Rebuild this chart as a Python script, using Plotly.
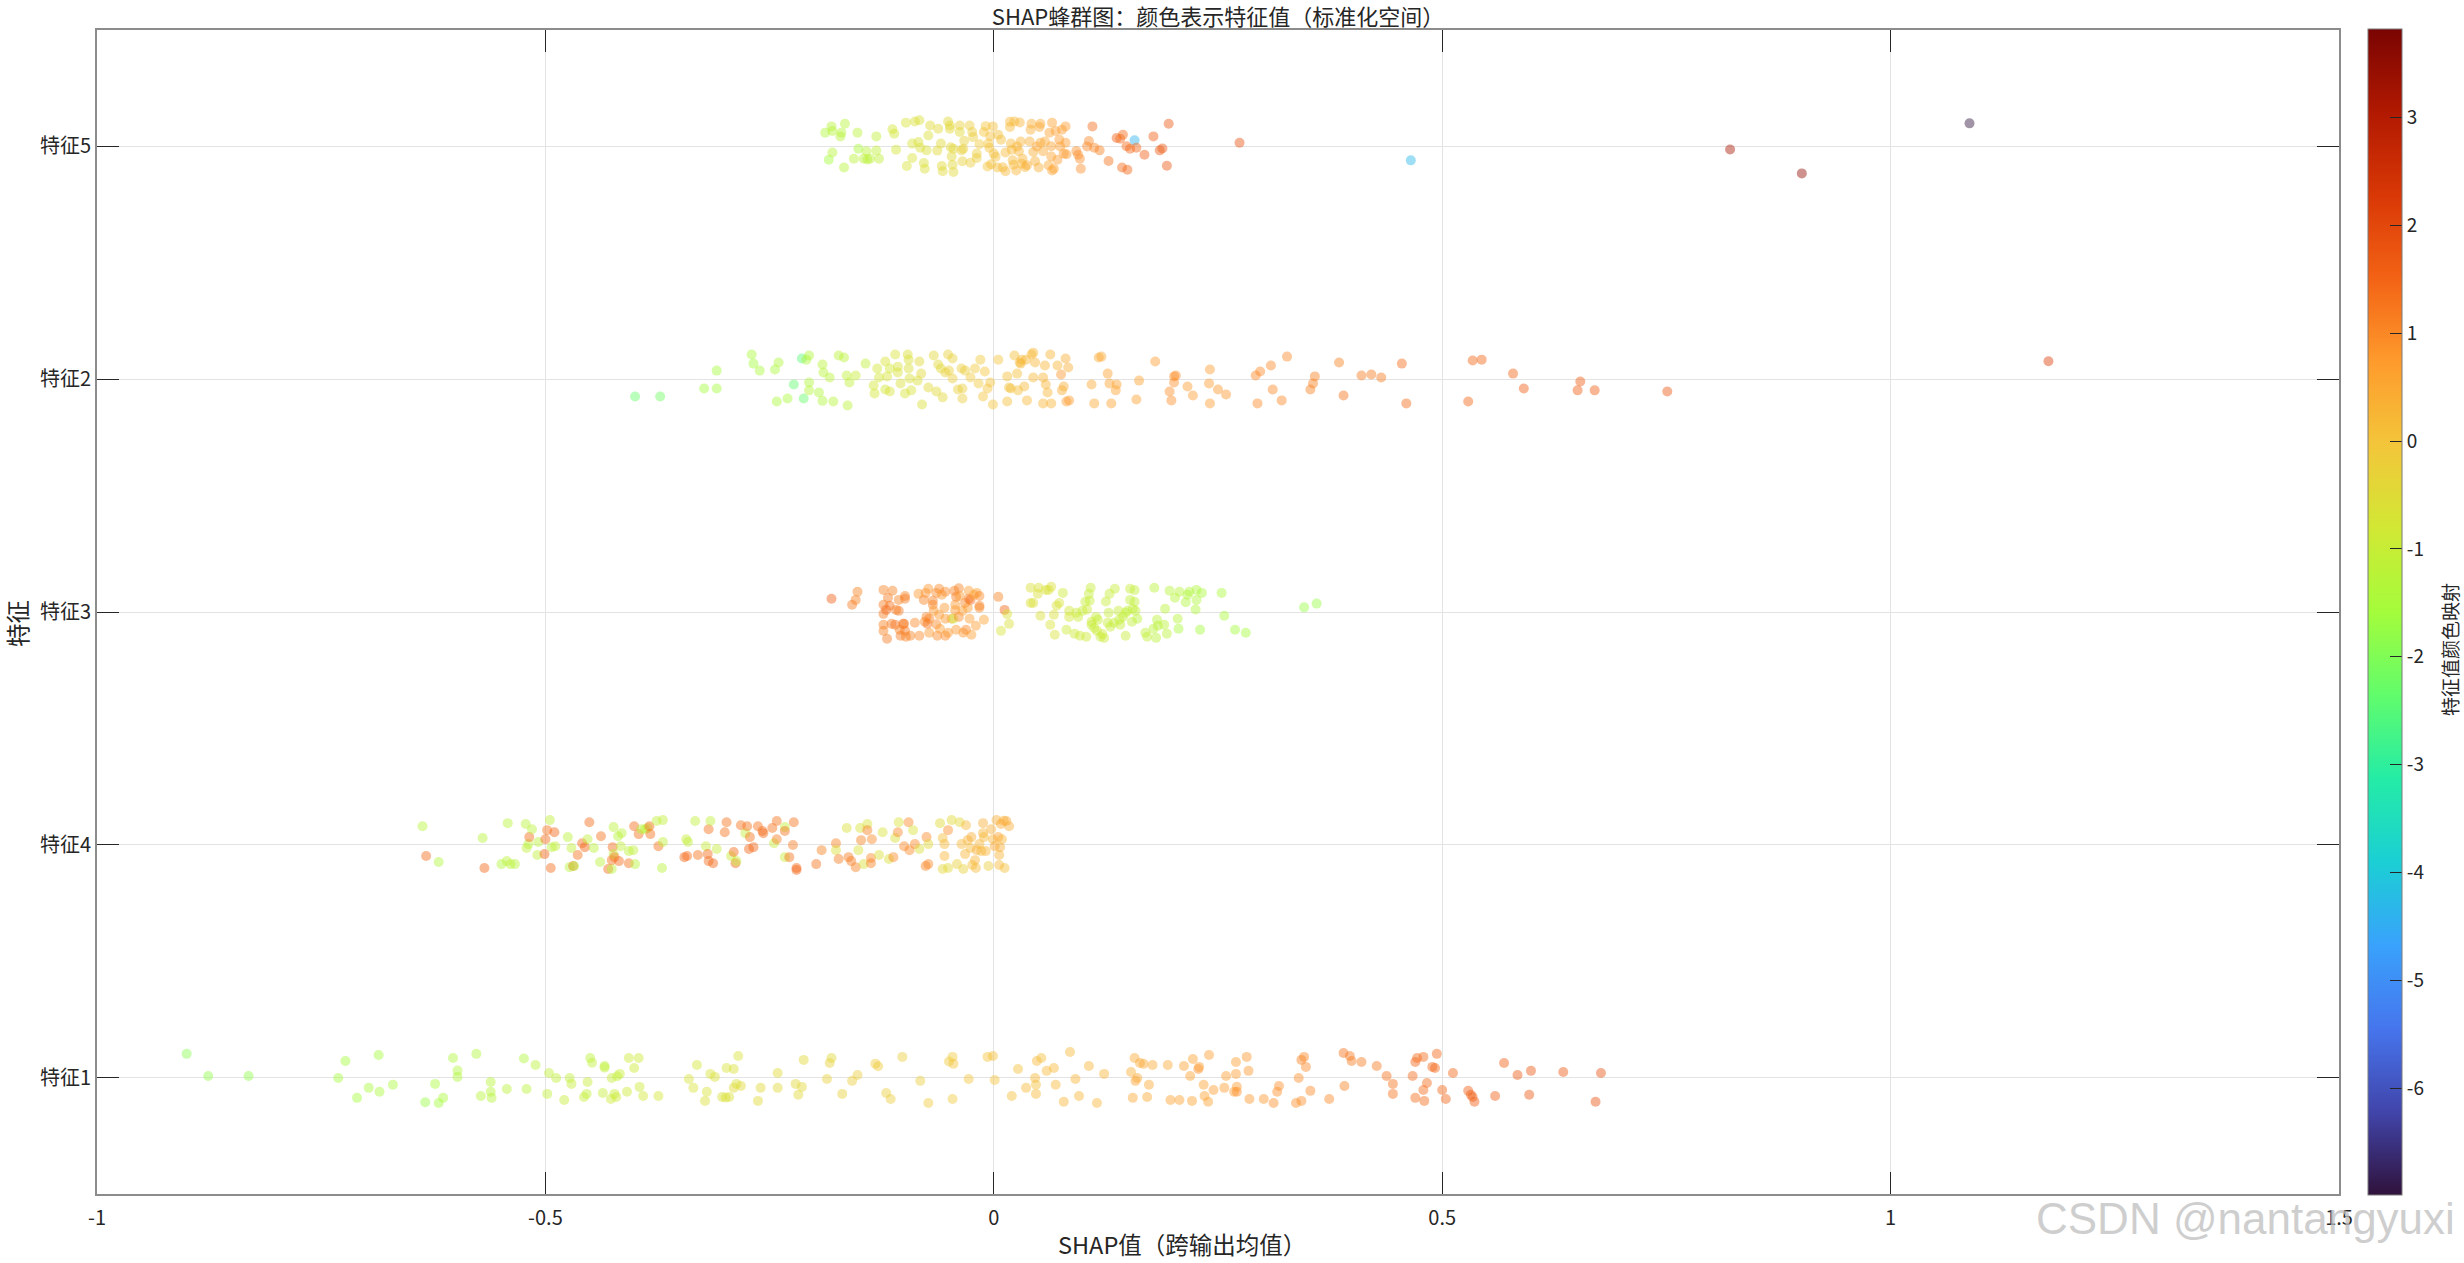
import plotly.graph_objects as go

# ---------------- data ----------------
features = ['特征1', '特征4', '特征3', '特征2', '特征5']   # bottom -> top
feature_pos = [1, 2, 3, 4, 5]

# 特征1
x1 = [-0.900,-0.876,-0.831,-0.731,-0.723,-0.710,-0.697,-0.686,-0.685,-0.670,
      -0.634,-0.619,-0.614,-0.623,-0.603,-0.598,-0.598,-0.577,-0.572,-0.561,
      -0.561,-0.560,-0.543,-0.524,-0.521,-0.511,-0.498,-0.496,-0.488,-0.479,
      -0.473,-0.471,-0.457,-0.454,-0.453,-0.450,-0.448,-0.436,-0.434,-0.434,
      -0.427,-0.426,-0.423,-0.421,-0.420,-0.417,-0.409,-0.407,-0.401,-0.396,
      -0.395,-0.391,-0.374,-0.340,-0.335,-0.331,-0.322,-0.320,-0.316,-0.311,
      -0.303,-0.298,-0.299,-0.295,-0.290,-0.290,-0.287,-0.285,-0.282,-0.263,
      -0.260,-0.241,-0.241,-0.221,-0.218,-0.214,-0.212,-0.186,-0.183,-0.181,
      -0.169,-0.158,-0.152,-0.132,-0.129,-0.120,-0.115,-0.102,
      -0.082,-0.073,-0.050,-0.046,-0.045,-0.046,-0.028,-0.007,-0.001,0.001,
      0.020,0.027,0.036,0.046,0.047,0.047,0.048,0.053,0.059,0.067,
      0.069,0.078,0.085,0.091,0.095,0.106,0.115,0.123,0.153,0.155,
      0.157,0.158,0.160,0.163,0.167,0.171,0.173,0.177,0.194,0.197,
      0.207,0.212,0.219,0.221,0.222,0.228,0.229,0.234,0.235,0.239,
      0.240,0.245,0.257,0.259,0.268,0.270,0.270,0.271,0.271,0.282,
      0.284,0.285,0.301,0.312,0.316,0.318,0.337,0.340,0.343,0.343,
      0.346,0.348,0.353,0.374,0.390,0.391,0.397,0.399,0.410,0.427,
      0.438,0.445,0.445,0.467,0.470,0.472,0.470,0.479,0.479,0.480,
      0.483,0.489,0.492,0.494,0.500,0.504,0.512,0.529,0.532,0.534,
      0.536,0.559,0.569,0.584,0.597,0.599,0.635,0.671,0.677]
dy1 = [0.102,0.007,0.007,-0.002,0.071,-0.087,-0.044,0.097,-0.061,-0.031,
       -0.106,-0.109,-0.087,-0.027,0.084,0.030,0.003,0.102,-0.079,-0.019,
       -0.061,-0.087,-0.049,0.082,-0.049,0.054,-0.070,0.020,-0.002,-0.096,
       -0.002,-0.027,-0.083,-0.070,-0.019,0.084,0.064,-0.066,0.050,0.043,
       -0.092,-0.002,-0.070,-0.083,0.006,0.016,-0.061,0.084,0.041,0.084,
       -0.040,-0.079,-0.079,-0.006,-0.044,0.054,-0.100,-0.061,0.016,0.003,
       -0.083,0.041,-0.086,-0.083,0.037,-0.044,-0.027,0.093,-0.036,-0.100,
       -0.044,0.020,-0.044,-0.027,-0.074,-0.040,0.076,-0.006,0.063,0.084,
       -0.070,-0.014,0.011,0.060,0.049,-0.066,-0.092,0.089,
       -0.014,-0.109,0.069,0.089,0.059,-0.092,-0.006,0.089,0.093,-0.010,
       -0.079,0.037,-0.044,-0.002,-0.031,-0.070,0.071,0.084,0.029,0.041,
       -0.031,-0.104,0.110,-0.006,-0.079,0.050,-0.109,0.016,0.024,-0.087,
       0.084,-0.014,-0.002,0.063,0.059,-0.083,-0.031,0.054,0.054,-0.096,
       -0.096,0.050,0.007,-0.100,0.080,0.037,0.046,-0.031,-0.079,-0.104,
       0.097,-0.053,-0.044,0.007,-0.061,0.067,0.016,-0.039,-0.061,0.089,
       0.029,-0.092,-0.092,-0.109,-0.061,-0.036,-0.109,-0.002,-0.100,0.076,
       0.089,0.046,-0.057,-0.092,0.106,-0.036,0.093,0.071,0.067,0.050,
       0.007,-0.027,-0.070,0.007,0.067,0.084,-0.087,0.089,-0.053,-0.100,
       -0.023,0.046,0.041,0.102,-0.053,-0.092,0.020,-0.057,-0.074,-0.083,
       -0.104,-0.079,0.063,0.011,-0.074,0.029,0.024,-0.104,0.020]
c1 = [-1.9,-1.8,-1.8,-1.6,-1.6,-1.6,-1.5,-1.6,-1.5,-1.5,
      -1.7,-1.6,-1.5,-1.5,-1.4,-1.4,-1.4,-1.4,-1.3,-1.3,
      -1.3,-1.3,-1.2,-1.4,-1.2,-1.2,-1.1,-1.1,-1.1,-1.0,
      -1.1,-1.0,-1.0,-1.1,-1.0,-1.2,-1.1,-1.0,-1.2,-1.1,
      -0.9,-1.0,-1.0,-0.9,-1.1,-1.0,-0.9,-0.9,-0.9,-0.9,
      -0.9,-0.8,-0.8,-0.7,-0.7,-0.8,-0.6,-0.7,-0.7,-0.6,
      -0.6,-0.7,-0.6,-0.6,-0.6,-0.5,-0.6,-0.7,-0.5,-0.5,
      -0.5,-0.5,-0.4,-0.4,-0.4,-0.4,-0.5,-0.3,-0.3,-0.4,
      -0.3,-0.2,-0.2,-0.1,-0.1,-0.2,-0.2,-0.2,
      -0.2,-0.1,-0.1,-0.1,0.0,-0.1,0.0,0.0,0.1,0.0,
      0.1,0.1,0.2,0.2,0.1,0.2,0.2,0.1,0.2,0.2,
      0.2,0.3,0.2,0.3,0.3,0.3,0.3,0.3,0.4,0.5,
      0.5,0.6,0.5,0.5,0.5,0.5,0.5,0.5,0.5,0.6,
      0.6,0.6,0.6,0.6,0.6,0.9,0.7,0.6,0.6,0.6,
      0.7,0.7,0.7,0.7,0.7,0.7,0.7,0.7,0.9,0.8,
      0.8,0.8,0.8,0.9,0.9,0.9,0.9,0.9,0.9,1.1,
      1.0,1.0,1.0,1.0,1.3,1.1,1.2,1.2,1.2,1.2,
      1.3,1.3,1.3,1.4,1.5,1.4,1.4,1.4,1.4,1.4,
      1.4,1.5,1.5,1.5,1.5,1.5,1.5,1.6,1.6,1.6,
      1.6,1.6,1.6,1.7,1.7,1.7,1.7,1.8,1.8]

# 特征4
x4 = [-0.637,-0.633,-0.619,-0.570,-0.568,-0.549,-0.543,-0.542,-0.539,-0.534,
      -0.522,-0.521,-0.519,-0.518,-0.515,-0.509,-0.508,-0.501,-0.500,-0.498,
      -0.495,-0.494,-0.493,-0.490,-0.489,-0.475,-0.473,-0.471,-0.469,-0.468,
      -0.464,-0.459,-0.456,-0.453,-0.451,-0.446,-0.439,-0.438,-0.430,-0.426,
      -0.426,-0.425,-0.424,-0.424,-0.423,-0.419,-0.418,-0.416,-0.415,-0.407,
      -0.407,-0.402,-0.401,-0.400,-0.396,-0.393,-0.389,-0.386,-0.384,-0.383,
      -0.376,-0.374,-0.370,-0.369,-0.369,-0.345,-0.343,-0.342,-0.341,-0.333,
      -0.330,-0.321,-0.319,-0.318,-0.318,-0.316,-0.313,-0.309,-0.300,-0.298,
      -0.293,-0.290,-0.288,-0.287,-0.282,-0.277,-0.275,-0.273,-0.272,-0.268,
      -0.263,-0.258,-0.257,-0.247,-0.245,-0.242,-0.242,-0.233,-0.233,-0.233,
      -0.228,-0.224,-0.223,-0.220,-0.220,-0.198,-0.192,-0.176,-0.176,-0.173,
      -0.164,-0.162,-0.159,-0.154,-0.151,-0.149,-0.148,-0.145,-0.141,-0.141,
      -0.137,-0.137,-0.136,-0.128,-0.124,-0.117,-0.112,-0.110,-0.107,-0.106,
      -0.100,-0.095,-0.094,-0.090,-0.088,-0.083,-0.076,-0.075,-0.073,-0.073,
      -0.060,-0.057,-0.057,-0.055,-0.055,-0.051,-0.051,-0.047,-0.041,-0.038,
      -0.036,-0.034,-0.032,-0.031,-0.029,-0.026,-0.025,-0.024,-0.021,-0.020,
      -0.019,-0.016,-0.014,-0.012,-0.012,-0.011,-0.009,-0.006,-0.003,-0.001,
      0.001,0.003,0.005,0.006,0.006,0.007,0.008,0.009,0.011,0.012,0.014,0.017]
dy4 = [0.080,-0.048,-0.074,0.029,-0.100,-0.083,-0.070,0.093,-0.083,-0.083,
       0.089,-0.014,0.003,0.033,0.067,-0.044,0.012,-0.040,0.024,0.063,
       0.106,-0.100,-0.010,0.054,-0.006,0.033,-0.096,-0.014,-0.091,-0.091,
       -0.044,0.007,-0.010,0.024,0.097,-0.014,-0.074,0.037,-0.104,-0.104,
       -0.066,-0.010,-0.040,0.076,-0.053,0.037,-0.070,-0.006,0.050,-0.079,
       -0.027,-0.023,0.080,-0.083,0.046,0.067,0.067,0.072,0.080,0.046,
       0.102,-0.006,-0.100,0.106,0.012,-0.053,0.024,-0.048,0.012,0.102,
       -0.044,-0.006,-0.040,0.067,-0.070,0.102,-0.079,-0.018,0.054,0.097,
       -0.048,-0.031,-0.079,-0.070,0.084,0.050,0.080,-0.018,0.033,-0.010,
       0.080,0.059,0.050,0.072,0.007,0.102,0.024,0.076,0.059,-0.053,
       -0.053,-0.001,0.097,-0.100,-0.108,-0.083,-0.023,0.007,-0.023,-0.061,
       0.072,-0.053,-0.070,-0.096,-0.023,0.072,0.020,-0.083,0.089,0.063,
       -0.057,-0.079,0.024,-0.044,0.054,-0.061,-0.053,0.029,0.054,0.097,
       -0.006,0.097,-0.023,0.063,0.003,-0.018,-0.091,0.033,0.003,-0.083,
       0.093,0.029,-0.104,0.003,-0.048,0.063,-0.100,0.106,-0.083,0.097,
       0.003,-0.104,-0.040,0.084,0.020,-0.014,0.033,-0.087,-0.066,-0.100,
       -0.023,0.003,-0.027,0.093,0.050,0.033,-0.027,-0.091,0.067,0.024,
       -0.006,0.106,0.033,-0.044,-0.087,-0.010,0.089,0.024,0.103,-0.100,0.102,0.080]
c4 = [-1.3,1.4,-1.4,-1.3,1.5,-1.4,-1.2,-1.3,-1.2,-1.3,
      -1.2,-1.1,-1.3,1.4,-1.2,-1.1,-1.2,1.5,1.4,1.3,
      -1.1,1.4,-1.2,1.5,-1.1,-1.2,-1.3,-1.1,1.4,-1.4,
      1.3,1.4,1.5,-1.1,1.4,-1.2,-1.2,1.3,1.4,-1.3,
      1.3,1.4,-1.1,-1.2,1.3,-1.3,1.4,-1.1,-1.2,1.3,
      -1.2,-1.1,1.4,-1.3,1.3,-1.3,-1.2,-1.2,1.4,1.3,
      -1.1,1.3,-1.2,-1.1,-1.1,1.5,-1.0,1.4,-1.1,-1.1,
      1.3,-1.0,1.4,1.3,1.4,-1.1,1.5,-1.0,1.3,1.3,
      -1.0,1.4,1.5,-1.0,1.3,-1.1,1.3,1.5,1.3,1.5,
      1.3,1.4,1.4,1.3,-1.0,1.3,1.2,-1.1,1.3,-1.0,
      1.3,1.2,1.3,1.5,1.5,1.3,1.1,1.1,-0.6,1.2,
      -0.6,1.2,1.2,1.1,-0.7,-0.7,1.1,-0.6,-0.7,1.1,
      1.0,1.1,1.0,-0.6,-0.7,-0.6,1.0,-0.6,1.0,-0.7,
      1.0,1.0,1.0,-0.7,1.0,-0.6,1.1,1.0,-0.5,1.0,
      -0.5,0.1,-0.4,0.2,0.3,0.9,-0.4,-0.5,-0.3,-0.4,
      0.2,-0.3,0.3,0.2,0.3,0.2,0.4,0.1,0.3,0.2,
      0.4,0.3,0.2,0.4,0.3,0.2,0.3,-0.2,0.4,0.3,
      0.5,0.4,0.6,0.3,0.2,0.4,0.5,0.3,0.4,0.1,0.5,0.4]

# 特征3
x3 = [-0.181,-0.158,-0.154,-0.152,-0.123,-0.123,-0.123,-0.120,-0.123,-0.123,
      -0.119,-0.118,-0.116,-0.114,-0.113,-0.110,-0.109,-0.106,-0.106,-0.105,
      -0.104,-0.101,-0.100,-0.099,-0.099,-0.099,-0.098,-0.093,-0.088,-0.084,
      -0.083,-0.078,-0.077,-0.076,-0.075,-0.074,-0.073,-0.072,-0.072,-0.068,
      -0.068,-0.067,-0.064,-0.064,-0.063,-0.061,-0.061,-0.060,-0.058,-0.055,
      -0.054,-0.054,-0.054,-0.051,-0.047,-0.045,-0.044,-0.043,-0.043,-0.042,
      -0.042,-0.039,-0.039,-0.038,-0.035,-0.034,-0.032,-0.031,-0.029,-0.028,
      -0.028,-0.027,-0.026,-0.025,-0.022,-0.020,-0.019,-0.016,-0.016,-0.016,
      -0.011,0.005,0.012,0.015,0.017,0.008,0.041,0.041,0.044,0.049,
      0.050,0.052,0.058,0.061,0.063,0.064,0.068,0.070,0.067,0.073,
      0.077,0.081,0.084,0.084,0.090,0.092,0.094,0.096,0.099,0.102,
      0.103,0.104,0.106,0.107,0.108,0.109,0.109,0.112,0.114,0.115,
      0.116,0.119,0.121,0.123,0.125,0.127,0.128,0.129,0.130,0.134,
      0.135,0.139,0.140,0.141,0.144,0.147,0.147,0.149,0.152,0.152,
      0.154,0.155,0.157,0.157,0.158,0.160,0.169,0.171,0.178,0.179,
      0.181,0.182,0.183,0.190,0.191,0.193,0.196,0.202,0.205,0.206,
      0.207,0.214,0.216,0.218,0.225,0.226,0.226,0.230,0.232,0.254,
      0.257,0.269,0.281,0.346,0.360]
dy3 = [0.057,0.031,0.052,0.087,0.095,-0.008,0.031,0.009,-0.055,-0.081,
       -0.115,0.061,0.027,-0.051,0.091,-0.055,0.009,0.005,0.052,-0.076,
       -0.102,-0.051,-0.051,0.069,0.057,-0.081,-0.106,-0.102,-0.046,0.078,
       -0.102,0.052,-0.042,0.082,-0.021,-0.051,0.100,-0.029,-0.089,0.048,
       0.031,0.005,-0.053,0.082,-0.102,-0.012,0.100,-0.072,0.074,0.018,
       0.087,-0.029,-0.102,-0.089,-0.029,-0.029,0.091,0.031,0.008,0.065,
       -0.076,0.102,-0.021,0.069,0.005,-0.089,0.039,-0.076,0.018,0.091,
       0.057,-0.029,0.052,-0.098,0.074,-0.059,0.082,0.069,0.027,0.018,
       -0.033,0.065,0.009,-0.009,-0.051,-0.081,0.104,0.039,0.039,0.078,
       0.104,-0.016,0.095,0.095,-0.055,0.108,-0.098,0.027,-0.012,0.039,
       0.082,-0.076,0.005,-0.021,-0.093,-0.003,-0.021,-0.102,0.005,0.044,
       -0.106,0.011,0.078,0.048,0.104,-0.055,-0.042,-0.069,-0.021,-0.081,
       -0.033,-0.106,-0.095,-0.112,0.045,-0.046,-0.003,0.078,-0.063,-0.046,
       0.100,0.005,-0.033,-0.055,-0.021,-0.102,-0.003,0.005,0.100,0.052,
       -0.042,0.014,0.094,0.044,0.005,-0.029,-0.089,-0.106,-0.072,0.104,
       -0.111,-0.033,-0.059,-0.055,0.014,-0.093,0.091,0.061,-0.029,-0.072,
       0.087,0.042,0.074,0.087,0.011,0.052,0.095,-0.076,0.082,0.082,
       -0.016,-0.076,-0.089,0.020,0.036]
c3 = [1.6,1.2,1.1,1.1,1.1,1.2,1.2,1.5,1.1,1.1,
      1.2,1.2,1.3,1.2,1.1,1.3,1.2,1.2,1.1,1.1,
      1.2,1.3,1.2,1.1,1.2,1.2,1.1,1.1,1.0,0.8,
      1.0,1.1,1.0,0.9,1.1,1.3,0.8,1.1,0.8,1.1,
      1.1,0.8,1.0,1.0,1.0,0.8,1.0,0.7,0.8,0.8,
      1.0,0.8,1.0,0.8,0.7,-1.0,1.1,0.8,0.8,1.2,
      0.8,1.1,1.0,0.8,0.7,0.8,1.1,1.0,0.7,0.7,
      1.2,0.7,1.4,0.7,0.7,0.7,0.7,1.0,1.1,1.0,
      0.6,1.1,1.5,-0.6,-0.6,-0.7,-0.6,-0.6,-0.6,-0.6,
      -0.6,-0.6,-0.7,-0.6,-0.7,-0.6,-0.7,-0.7,-0.6,-0.7,
      -0.9,-0.9,-0.8,-0.8,-0.9,-0.9,-0.9,-0.9,-1.0,-1.0,
      -0.9,-0.9,-1.0,-1.0,-1.0,-1.0,-0.9,-1.0,-1.0,-0.9,
      -1.0,-1.0,-0.9,-0.9,-1.0,-1.0,-1.0,-1.0,-1.0,-1.0,
      -1.0,-1.0,-1.1,-1.0,-1.0,-1.0,-1.1,-1.1,-1.0,-1.1,
      -1.1,-1.1,-1.1,-1.1,-1.1,-1.2,-1.1,-1.1,-1.2,-1.2,
      -1.2,-1.2,-1.2,-1.2,-1.2,-1.2,-1.3,-1.3,-1.3,-1.5,
      -1.3,-1.4,-1.4,-1.4,-1.4,-1.4,-1.4,-1.6,-1.5,-1.5,
      -1.5,-1.6,-1.6,-1.7,-1.7]

# 特征2
x2 = [-0.400,-0.372,-0.323,-0.309,-0.309,-0.270,-0.268,-0.261,-0.244,-0.240,
      -0.242,-0.230,-0.223,-0.214,-0.212,-0.209,-0.206,-0.206,-0.206,-0.195,
      -0.191,-0.190,-0.191,-0.183,-0.179,-0.173,-0.167,-0.164,-0.161,-0.163,
      -0.154,-0.143,-0.134,-0.133,-0.130,-0.128,-0.121,-0.121,-0.119,-0.116,
      -0.116,-0.110,-0.107,-0.107,-0.104,-0.099,-0.096,-0.095,-0.095,-0.094,
      -0.092,-0.085,-0.083,-0.081,-0.080,-0.073,-0.067,-0.064,-0.062,-0.059,
      -0.057,-0.054,-0.051,-0.050,-0.046,-0.046,-0.040,-0.036,-0.035,-0.035,
      -0.032,-0.026,-0.021,-0.017,-0.015,-0.012,-0.010,-0.007,-0.004,-0.001,
      0.005,0.015,0.015,0.017,0.019,0.023,0.026,0.027,0.029,0.030,
      0.031,0.034,0.036,0.037,0.042,0.044,0.044,0.046,0.055,0.055,
      0.057,0.058,0.060,0.063,0.064,0.071,0.075,0.076,0.078,0.080,
      0.081,0.083,0.084,0.109,0.112,0.117,0.120,0.127,0.129,0.131,
      0.137,0.136,0.159,0.162,0.180,0.196,0.198,0.201,0.201,0.203,
      0.216,0.222,0.240,0.241,0.241,0.250,0.259,0.292,0.294,0.297,
      0.309,0.311,0.321,0.327,0.353,0.356,0.358,0.385,0.390,0.410,
      0.421,0.432,0.455,0.460,0.529,0.534,0.544,0.579,0.591,0.651,
      0.654,0.670,0.751,1.176]
dy2 = [-0.074,-0.074,-0.040,0.037,-0.040,0.106,0.067,0.037,0.042,0.072,
       -0.096,-0.083,-0.023,0.089,-0.083,0.084,0.102,-0.014,-0.048,-0.057,
       0.063,0.029,-0.093,0.007,-0.096,0.102,0.093,0.016,-0.014,-0.113,
       0.016,0.067,-0.027,-0.061,0.046,0.007,0.076,-0.044,0.012,-0.053,
       0.046,0.106,0.054,0.029,-0.018,-0.061,0.106,0.084,0.046,0.003,
       -0.048,-0.006,0.076,0.024,-0.109,-0.036,0.102,-0.053,0.063,0.046,
       -0.078,0.029,0.106,0.037,0.089,0.003,-0.044,0.046,-0.040,-0.083,
       0.037,0.007,0.046,-0.018,0.084,-0.074,0.033,-0.040,-0.014,-0.109,
       0.084,0.012,-0.096,-0.036,-0.040,0.102,0.024,-0.048,0.072,0.067,
       0.084,-0.031,0.084,-0.091,0.106,0.114,0.007,0.072,0.007,-0.104,
       0.059,-0.023,-0.057,0.106,-0.104,0.059,0.020,-0.048,-0.031,0.089,
       -0.096,0.050,-0.091,-0.023,-0.104,0.093,0.097,0.024,-0.018,-0.104,
       -0.023,-0.048,-0.087,-0.006,0.076,-0.053,-0.091,0.012,-0.014,0.016,
       -0.031,-0.070,-0.018,-0.104,0.042,-0.044,-0.066,0.016,-0.104,0.033,
       0.059,-0.044,-0.091,0.097,-0.044,-0.018,0.012,0.072,-0.070,0.016,
       0.020,0.007,0.067,-0.104,-0.096,0.080,0.084,0.024,-0.040,-0.048,
       -0.010,-0.048,-0.053,0.077]
c2 = [-2.3,-2.2,-1.6,-1.6,-1.6,-1.5,-1.6,-1.5,-1.5,-1.4,
      -1.5,-1.5,-2.4,-2.5,-2.3,-1.4,-1.4,-1.4,-1.3,-1.4,
      -1.2,-1.3,-1.4,-1.2,-1.3,-1.2,-1.2,-1.1,-1.1,-1.2,
      -1.0,-1.1,-0.8,-0.8,-0.8,-0.8,-0.7,-0.8,-0.7,-0.7,
      -0.8,-0.7,-0.7,-0.7,-0.6,-0.7,-0.6,-0.6,-0.6,-0.6,
      -0.7,-0.6,-0.5,-0.5,-0.6,-0.5,-0.4,-0.5,-0.4,-0.4,
      -0.4,-0.3,-0.3,-0.3,-0.3,-0.2,-0.3,-0.2,-0.2,-0.2,
      -0.2,-0.1,-0.1,-0.1,-0.1,0.0,0.0,0.0,0.0,0.0,
      0.0,0.1,0.1,0.1,0.1,0.1,0.1,0.1,0.2,0.2,
      0.2,0.2,0.2,0.2,0.2,0.2,0.2,0.3,0.3,0.3,
      0.3,0.3,0.3,0.3,0.3,0.3,0.8,0.4,0.4,0.4,
      0.7,0.4,0.7,0.5,0.5,0.5,0.5,0.6,0.6,0.6,
      0.6,0.6,0.6,0.6,0.7,0.9,0.9,0.9,0.9,0.9,
      0.7,0.7,0.7,0.7,0.7,0.8,0.8,1.0,1.0,1.0,
      1.0,1.0,1.0,1.0,1.1,1.1,1.1,1.1,1.3,1.2,
      1.2,1.2,1.4,1.4,1.5,1.5,1.5,1.5,1.6,1.6,
      1.6,1.6,1.7,2.2]

# 特征5
x5 = [-0.188,-0.184,-0.181,-0.180,-0.180,-0.171,-0.170,-0.167,-0.166,-0.156,
      -0.152,-0.151,-0.145,-0.142,-0.141,-0.138,-0.131,-0.131,-0.128,-0.113,
      -0.111,-0.109,-0.098,-0.097,-0.091,-0.091,-0.088,-0.084,-0.083,-0.082,
      -0.078,-0.077,-0.075,-0.073,-0.071,-0.063,-0.062,-0.059,-0.058,-0.057,
      -0.051,-0.049,-0.049,-0.048,-0.047,-0.046,-0.045,-0.045,-0.038,-0.038,
      -0.036,-0.035,-0.034,-0.033,-0.027,-0.026,-0.024,-0.023,-0.019,-0.019,
      -0.016,-0.011,-0.009,-0.007,-0.006,-0.005,-0.004,-0.003,-0.001,0.000,
      0.002,0.004,0.005,0.008,0.010,0.013,0.013,0.018,0.018,0.019,
      0.020,0.021,0.022,0.023,0.025,0.026,0.028,0.029,0.030,0.031,
      0.032,0.035,0.037,0.040,0.041,0.042,0.044,0.046,0.048,0.050,
      0.051,0.052,0.052,0.055,0.057,0.061,0.062,0.064,0.064,0.065,
      0.065,0.067,0.069,0.071,0.073,0.074,0.076,0.078,0.080,0.080,
      0.081,0.092,0.094,0.096,0.097,0.104,0.106,0.110,0.112,0.118,
      0.128,0.137,0.141,0.143,0.144,0.148,0.149,0.152,0.157,0.159,
      0.168,0.178,0.185,0.188,0.193,0.195,0.274,0.465,0.821,0.901,
      1.088]
dy5 = [0.059,-0.057,0.086,0.066,-0.026,0.043,0.059,-0.091,0.097,-0.053,
       0.059,-0.010,-0.053,-0.021,-0.056,-0.053,0.043,-0.018,-0.053,0.074,
       0.054,-0.014,0.102,-0.084,0.012,-0.050,0.107,0.019,0.112,-0.006,
       -0.071,-0.096,-0.017,0.047,0.090,-0.018,0.076,0.012,-0.084,-0.107,
       0.107,0.076,0.090,-0.004,-0.043,-0.079,-0.110,-0.010,0.062,0.090,
       -0.017,-0.064,-0.010,0.024,0.090,-0.070,0.062,0.040,-0.050,-0.031,
       0.009,0.062,0.087,-0.086,0.012,-0.006,0.044,-0.077,0.086,-0.031,
       -0.044,-0.091,0.050,0.029,-0.090,-0.107,-0.026,0.083,0.106,0.012,
       -0.014,-0.060,-0.079,0.107,-0.103,0.000,-0.021,0.103,0.021,-0.074,
       -0.053,-0.089,-0.081,0.021,0.072,0.097,-0.024,-0.064,0.000,-0.091,
       0.083,0.097,0.016,-0.021,0.021,-0.081,0.059,-0.043,0.001,-0.103,
       0.102,-0.096,0.066,-0.057,0.029,0.000,0.072,-0.031,0.086,0.016,
       -0.034,-0.020,-0.036,-0.053,-0.096,0.000,0.023,0.086,-0.006,-0.017,
       -0.063,0.036,0.033,-0.091,0.050,0.001,-0.100,-0.010,0.026,-0.006,
       -0.036,0.043,-0.017,-0.009,-0.083,0.097,0.016,-0.060,-0.013,-0.116,
       0.099]
c5 = [-1.4,-1.6,-1.3,-1.3,-1.3,-1.3,-1.3,-1.3,-1.3,-1.2,
      -1.2,-1.5,-1.2,-1.2,-1.2,-1.2,-1.1,-1.1,-1.1,-0.8,
      -0.8,-0.8,-0.7,-0.7,-0.7,-0.7,-0.6,-0.6,-0.6,-0.6,
      -0.6,-0.6,-0.6,-0.6,-0.5,-0.5,-0.5,-0.5,-0.5,-0.5,
      -0.4,-0.4,-0.4,-0.4,-0.4,-0.4,-0.4,-0.4,-0.5,-0.3,
      -0.3,-0.3,-0.3,-0.3,-0.2,-0.2,-0.2,-0.2,-0.2,-0.2,
      -0.1,0.0,0.0,0.0,0.0,0.0,0.1,0.1,0.1,0.1,
      0.1,0.1,0.1,0.1,0.2,0.2,0.2,0.2,0.2,0.2,
      0.2,0.2,0.2,0.2,0.3,0.3,0.3,0.3,0.3,0.3,
      0.3,0.3,0.4,0.4,0.4,0.4,0.4,0.4,0.6,0.4,
      0.5,0.5,0.5,0.5,0.5,0.5,0.6,0.6,0.6,0.6,
      0.6,0.6,0.7,0.7,0.7,0.7,0.7,0.7,0.7,0.7,
      0.8,0.9,0.9,0.9,0.9,1.0,1.0,1.4,1.0,1.1,
      1.3,1.6,1.4,1.4,1.4,1.4,1.5,1.5,-4.4,1.5,
      1.6,1.6,1.7,1.7,1.7,1.7,1.8,-4.3,3.2,3.5,
      -6.99]

x_ticks = [-1, -0.5, 0, 0.5, 1, 1.5]
x_tick_labels = ['-1', '-0.5', '0', '0.5', '1', '1.5']
cbar_ticks = [-6, -5, -4, -3, -2, -1, 0, 1, 2, 3]
cbar_tick_labels = ['-6', '-5', '-4', '-3', '-2', '-1', '0', '1', '2', '3']
color_min, color_max = -6.99, 3.82

series = [
    (feature_pos[0], x1, dy1, c1),
    (feature_pos[1], x4, dy4, c4),
    (feature_pos[2], x3, dy3, c3),
    (feature_pos[3], x2, dy2, c2),
    (feature_pos[4], x5, dy5, c5),
]

# ---------------- figure ----------------
W, H = 2464, 1263
L, R, T, B = 97, 2339, 30, 1194
FONT = 'Noto Sans CJK SC, Noto Sans, sans-serif'
TXT = '#262626'


def px_x(p):
    return (p - L) / (R - L)


def px_y(p):
    return (B - p) / (B - T)


fig = go.Figure()
for pos, xs, dys, cs in series:
    n = min(len(xs), len(dys), len(cs))
    fig.add_trace(go.Scatter(
        x=xs[:n], y=[pos + d for d in dys[:n]], mode='markers',
        marker=dict(size=10, color=cs[:n], coloraxis='coloraxis',
                    opacity=0.45, line=dict(width=0)),
        showlegend=False, hoverinfo='x'))

axis_common = dict(
    showline=True, linecolor='#8c8c8c', linewidth=2, mirror='ticks',
    ticks='inside', ticklen=22, tickwidth=1, tickcolor=TXT,
    showgrid=True, gridcolor='#e3e3e3', gridwidth=1, zeroline=False,
    tickfont=dict(family=FONT, size=20, color=TXT),
)

fig.update_layout(
    width=W, height=H,
    margin=dict(l=L, r=W - R, t=T, b=H - B, pad=0),
    paper_bgcolor='white', plot_bgcolor='white',
    font=dict(family=FONT, size=20, color=TXT),
    title=dict(text='SHAP蜂群图：颜色表示特征值（标准化空间）',
               x=0.5, xref='paper', xanchor='center',
               y=1 - 17.5 / H, yref='container', yanchor='middle',
               font=dict(family=FONT, size=22, color=TXT)),
    xaxis=dict(range=[-1, 1.5], tickvals=x_ticks, ticktext=x_tick_labels,
               ticklabelstandoff=5, **axis_common),
    yaxis=dict(range=[0.5, 5.5], tickvals=feature_pos, ticktext=features,
               **axis_common),
    coloraxis=dict(
        colorscale='Turbo', cmin=color_min, cmax=color_max,
        colorbar=dict(
            x=px_x(2368), xanchor='left', xpad=0,
            y=0.5, yanchor='middle', ypad=0,
            thickness=34, thicknessmode='pixels',
            len=1166, lenmode='pixels',
            outlinewidth=1, outlinecolor='#7a7a7a',
            ticks='inside', ticklen=12, tickwidth=1, tickcolor=TXT,
            tickvals=cbar_ticks, ticktext=cbar_tick_labels,
            tickfont=dict(family=FONT, size=19, color=TXT),
        ),
    ),
    annotations=[
        dict(text='SHAP值（跨输出均值）', xref='paper', yref='paper',
             x=px_x(1182), y=px_y(1244), xanchor='center', yanchor='middle',
             showarrow=False, font=dict(family=FONT, size=23.5, color=TXT)),
        dict(text='特征', xref='paper', yref='paper', textangle=-90,
             x=px_x(17), y=px_y(624), xanchor='center', yanchor='middle',
             showarrow=False, font=dict(family=FONT, size=23.5, color=TXT)),
        dict(text='特征值颜色映射', xref='paper', yref='paper', textangle=-90,
             x=px_x(2449), y=px_y(650), xanchor='center', yanchor='middle',
             showarrow=False, font=dict(family=FONT, size=19, color=TXT)),
        dict(text='CSDN @nantangyuxi', xref='paper', yref='paper',
             x=px_x(2245), y=px_y(1218),
             xanchor='center', yanchor='middle', showarrow=False,
             font=dict(family='Liberation Sans, Arial, sans-serif', size=44,
                       color='rgba(190,190,190,0.75)')),
    ],
)

fig.write_html(
    'out.html', config={'displayModeBar': False},
    post_script=(
        "document.documentElement.style.margin='0';"
        "document.documentElement.style.overflow='hidden';"
        "document.body.style.margin='0';"
        "document.body.style.overflow='hidden';"
        "var gd=document.getElementsByClassName('plotly-graph-div')[0];"
        "if(gd){gd.style.display='block';}"
        "window.scrollTo(0,0);"))
